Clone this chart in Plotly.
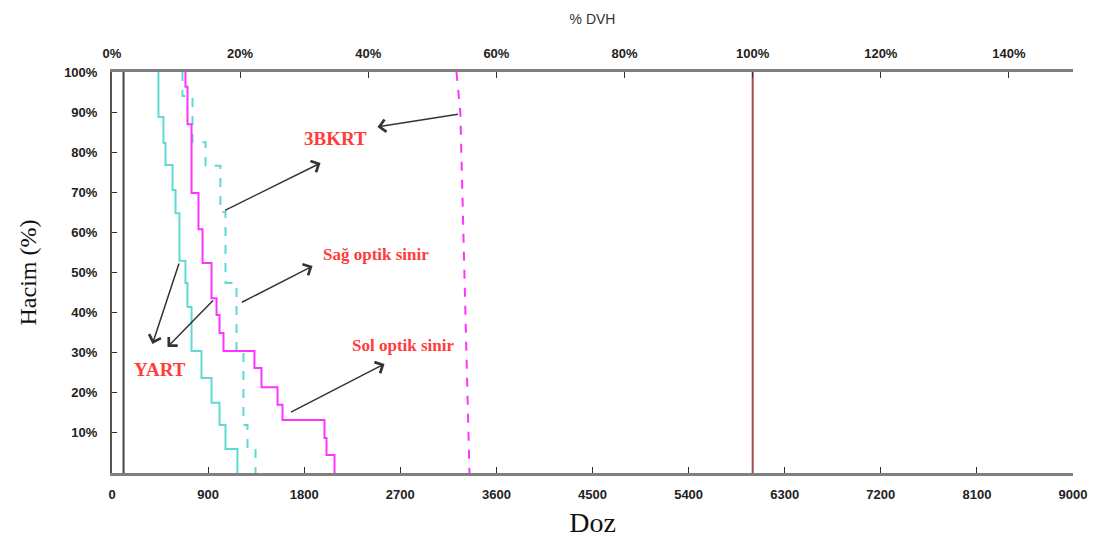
import plotly.graph_objects as go

# ---- data (dose in cGy, volume in %) ----
sag_yart_dose = [435, 482, 501, 567, 595, 632, 688, 707, 745, 838, 932, 1007, 1063, 1175, 1175]
sag_yart_vol = [100, 88.8, 82.3, 76.8, 70.6, 64.8, 52.9, 47.4, 41.4, 30.4, 23.7, 17.5, 12.0, 6.0, 0]

sag_3bkrt_dose = [660, 754, 876, 1015, 1063, 1166, 1231, 1269, 1344, 1344]
sag_3bkrt_vol = [100, 94.0, 82.5, 76.6, 65.1, 47.4, 30.2, 12.0, 6.5, 0]

sol_yart_dose = [688, 707, 745, 810, 848, 932, 979, 1007, 1044, 1334, 1400, 1550, 1597, 1990, 2009, 2084, 2084]
sol_yart_vol = [100, 96.3, 87.0, 69.8, 60.8, 52.4, 43.6, 39.4, 34.9, 30.4, 26.2, 21.4, 17.0, 13.2, 8.7, 4.5, 0]

sol_3bkrt_dose = [3226, 3262, 3348]
sol_3bkrt_vol = [100, 90, 0]

ref_dose = [6000, 6000]
ref_vol = [0, 100]
low_dose = [108, 108]
low_vol = [0, 100]

x_ticks = [0, 900, 1800, 2700, 3600, 4500, 5400, 6300, 7200, 8100, 9000]
y_ticks = [10, 20, 30, 40, 50, 60, 70, 80, 90, 100]
pct_ticks = [0, 20, 40, 60, 80, 100, 120, 140]

CYAN = "#5fdad3"
MAG = "#ff33ff"

fig = go.Figure()
fig.add_trace(go.Scatter(x=low_dose, y=low_vol, mode="lines",
                         line=dict(color="#444444", width=2), showlegend=False))
fig.add_trace(go.Scatter(x=sag_yart_dose, y=sag_yart_vol, mode="lines", line_shape="vh",
                         line=dict(color=CYAN, width=2), showlegend=False))
fig.add_trace(go.Scatter(x=sag_3bkrt_dose, y=sag_3bkrt_vol, mode="lines", line_shape="vh",
                         line=dict(color=CYAN, width=2, dash="dash"), showlegend=False))
fig.add_trace(go.Scatter(x=sol_yart_dose, y=sol_yart_vol, mode="lines", line_shape="vh",
                         line=dict(color=MAG, width=2), showlegend=False))
fig.add_trace(go.Scatter(x=sol_3bkrt_dose, y=sol_3bkrt_vol, mode="lines",
                         line=dict(color=MAG, width=2, dash="dash"), showlegend=False))
fig.add_trace(go.Scatter(x=ref_dose, y=ref_vol, mode="lines",
                         line=dict(color="#a84848", width=2), showlegend=False))
# invisible trace to anchor the top % axis
fig.add_trace(go.Scatter(x=[0, 150], y=[0, 0], xaxis="x2", mode="lines",
                         line=dict(width=0), hoverinfo="skip", showlegend=False, opacity=0))

tick_font = dict(family="Liberation Sans Narrow, Liberation Sans", size=13, color="#222222")

fig.update_layout(
    width=1103, height=545,
    margin=dict(l=112, r=30, t=72, b=72),
    paper_bgcolor="white", plot_bgcolor="white",
    xaxis=dict(range=[0, 9000], tickvals=x_ticks, ticktext=[f"<b>{v}</b>" for v in x_ticks],
               ticks="inside", ticklen=6, tickcolor="#333", showgrid=False, zeroline=False,
               showline=True, linecolor="#808080", linewidth=3, tickfont=tick_font,
               ticklabelstandoff=7, automargin=False,
               title=dict(text="Doz", font=dict(family="Liberation Serif", size=28, color="#111"),
                          standoff=12)),
    xaxis2=dict(range=[0, 150], overlaying="x", side="top", tickvals=pct_ticks,
                ticktext=[f"<b>{v}%</b>" for v in pct_ticks],
                ticks="inside", ticklen=6, tickcolor="#333", showgrid=False, zeroline=False,
                showline=True, linecolor="#808080", linewidth=3, tickfont=tick_font,
                ticklabelstandoff=6, automargin=False,
                title=dict(text="% DVH", font=dict(family="Liberation Sans", size=14, color="#333"),
                           standoff=18)),
    yaxis=dict(range=[0, 100], tickvals=y_ticks, ticktext=[f"<b>{v}%</b>" for v in y_ticks],
               ticks="inside", ticklen=5, tickcolor="#333", showgrid=False, zeroline=False,
               showline=True, linecolor="#555555", linewidth=2, tickfont=tick_font,
               ticklabelstandoff=10, automargin=False,
               title=dict(text="Hacim (%)", font=dict(family="Liberation Serif", size=24, color="#111"),
                          standoff=21)),
)

RED = "#ff3b3b"
lab_font = dict(family="Liberation Serif", size=19, color=RED)
lab_font_s = dict(family="Liberation Serif", size=17, color=RED)
texts = [
    ("<b>3BKRT</b>", 2095, 83.3, lab_font),
    ("<b>Sağ optik sinir</b>", 2477, 54.4, lab_font_s),
    ("<b>Sol optik sinir</b>", 2721, 31.9, lab_font_s),
    ("<b>YART</b>", 445, 25.9, lab_font),
]
for t, x, y, f in texts:
    fig.add_annotation(x=x, y=y, text=t, showarrow=False, font=f, xref="x", yref="y")

arrows = [  # (head_x, head_y, tail_x, tail_y)
    (2486, 86.3, 3254, 89.5),
    (1953, 77.3, 1044, 65.3),
    (1878, 51.6, 1203, 42.4),
    (379, 32.2, 632, 52.6),
    (520, 31.4, 960, 43.4),
    (2552, 27.2, 1662, 15.0),
]
for hx, hy, tx, ty in arrows:
    fig.add_annotation(x=hx, y=hy, ax=tx, ay=ty, xref="x", yref="y", axref="x", ayref="y",
                       text="", showarrow=True, arrowhead=4, arrowsize=1.6, arrowwidth=1.5,
                       arrowcolor="#333333")

fig.write_html("out.html")
